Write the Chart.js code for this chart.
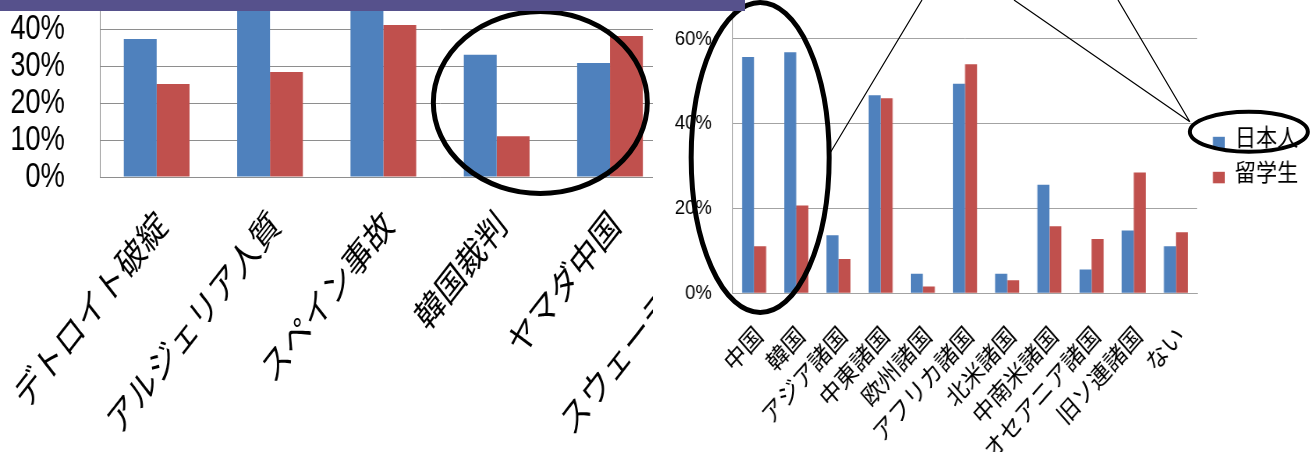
<!DOCTYPE html>
<html lang="ja">
<head>
<meta charset="utf-8">
<title>ニュース認知度と関心地域</title>
<script src="https://cdn.jsdelivr.net/npm/chart.js@4.4.1/dist/chart.umd.min.js"></script>
<style>
  html, body { margin: 0; padding: 0; background: #fff; }
  #stage { position: relative; width: 1314px; height: 452px; overflow: hidden; background: #fff; }
  #leftWrap { position: absolute; left: 0; top: -30px; width: 1010px; height: 482px; transform: scaleX(0.78); transform-origin: 0 0; }
  #rightPanel { position: absolute; left: 653px; top: 0; width: 661px; height: 452px; background: #fff; overflow: hidden; }
  #rightWrap { position: absolute; left: 0; top: -20px; width: 751px; height: 472px; transform: scaleX(0.88); transform-origin: 0 0; }
  canvas { display: block; }
  #marks { position: absolute; left: 0; top: 0; }
  #band { position: absolute; left: 0; top: 0; width: 745px; height: 11px; background: #56518c; }
</style>
</head>
<body>
<div id="stage">
  <div id="leftWrap"><canvas id="leftChart" width="1010" height="482"></canvas></div>
  <div id="rightPanel"><div id="rightWrap"><canvas id="rightChart" width="751" height="472"></canvas></div></div>
  <canvas id="marks" width="1314" height="452"></canvas>
  <div id="band"></div>
</div>
<script>
// ---- data ----
const seriesNames = ['日本人', '留学生'];

const newsTopics = ['デトロイト破綻', 'アルジェリア人質', 'スペイン事故', '韓国裁判', 'ヤマダ中国', 'スウェーデン暴動'];
const newsJapanese = [37.5, 52, 55, 33.2, 31.0, null];
const newsStudents = [25.3, 28.5, 41.3, 11.1, 38.3, null];
const newsTicks = [0, 10, 20, 30, 40, 50];

const regions = ['中国', '韓国', 'アジア諸国', '中東諸国', '欧州諸国', 'アフリカ諸国', '北米諸国', '中南米諸国', 'オセアニア諸国', '旧ソ連諸国', 'ない'];
const regionJapanese = [55.7, 56.8, 13.7, 46.7, 4.6, 49.4, 4.6, 25.6, 5.6, 14.8, 11.1];
const regionStudents = [11.1, 20.7, 8.1, 46.0, 1.6, 54.0, 3.1, 15.8, 12.8, 28.5, 14.4];
const regionTicks = [0, 20, 40, 60];
const regionMax = 70;

// ---- look ----
const BLUE = '#4f81bd';
const RED = '#c0504d';
const GRID_L = '#8e8e8e';
const GRID_R = '#a3a3a3';
const JP = '"Noto Sans CJK JP", "Noto Sans", sans-serif';
const NUM = '"Liberation Sans", Arial, sans-serif';

// horizontal squeeze of each panel and where its canvas sits on the page
const LEFT = { sx: 0.78, x0: 0, y0: -30 };
const RIGHT = { sx: 0.88, x0: 653, y0: -20 };

Chart.defaults.color = '#000';

const pct = v => v + '%';
// keep the plot box exactly where the axis sizes put it
const fixWidth = w => s => { s.width = w; s.paddingTop = 0; s.paddingBottom = 0; };
const fixHeight = h => s => { s.height = h; s.paddingLeft = 0; s.paddingRight = 0; };
const useTicks = list => s => { s.ticks = list.map(v => ({ value: v })); };

let leftChart = null, rightChart = null;

const redrawMarks = { id: 'redrawMarks', afterDraw() { if (leftChart && rightChart) drawMarks(); } };

leftChart = new Chart(document.getElementById('leftChart'), {
  type: 'bar',
  data: {
    labels: newsTopics,
    datasets: [
      { label: seriesNames[0], data: newsJapanese, backgroundColor: BLUE },
      { label: seriesNames[1], data: newsStudents, backgroundColor: RED }
    ]
  },
  plugins: [redrawMarks],
  options: {
    responsive: false,
    animation: false,
    events: [],
    layout: { padding: { top: 23, right: 10, bottom: 0, left: 0 } },
    datasets: { bar: { categoryPercentage: 0.58, barPercentage: 1 } },
    plugins: { legend: { display: false }, tooltip: { enabled: false } },
    scales: {
      x: {
        grid: { display: false, drawTicks: false },
        border: { display: true, color: GRID_L, width: 1 },
        ticks: {
          autoSkip: false, minRotation: 45, maxRotation: 45,
          padding: 25, labelOffset: 6,
          font: { family: JP, size: 37 }
        },
        afterFit: fixHeight(275)
      },
      y: {
        min: newsTicks[0], max: newsTicks[newsTicks.length - 1],
        grid: { color: GRID_L, lineWidth: 1, drawTicks: false },
        border: { display: true, color: GRID_L, width: 1 },
        ticks: { autoSkip: false, callback: pct, padding: 45, font: { family: NUM, size: 35, lineHeight: 1 } },
        afterBuildTicks: useTicks(newsTicks),
        afterFit: fixWidth(128.2)
      }
    }
  }
});

// legend drawn beside the plot of the region chart
const sideLegend = {
  id: 'sideLegend',
  afterDraw(chart) {
    const { ctx, chartArea } = chart;
    const mid = (chartArea.top + chartArea.bottom) / 2;
    const x = chartArea.right + 18;
    ctx.save();
    ctx.font = '24px ' + JP;
    ctx.textBaseline = 'middle';
    ctx.textAlign = 'left';
    chart.data.datasets.forEach((ds, i) => {
      const cy = mid - 8 + i * 35;
      ctx.fillStyle = ds.backgroundColor;
      ctx.fillRect(x, cy, 13.6, 11.5);
      ctx.fillStyle = '#000';
      ctx.fillText(ds.label, x + 25, cy);
    });
    ctx.restore();
    chart.$legendAnchor = { x, y: mid - 8 };
  }
};

rightChart = new Chart(document.getElementById('rightChart'), {
  type: 'bar',
  data: {
    labels: regions,
    datasets: [
      { label: seriesNames[0], data: regionJapanese, backgroundColor: BLUE },
      { label: seriesNames[1], data: regionStudents, backgroundColor: RED }
    ]
  },
  plugins: [sideLegend, redrawMarks],
  options: {
    responsive: false,
    animation: false,
    events: [],
    layout: { padding: { top: 16.3, right: 132.8, bottom: 0, left: 0 } },
    datasets: { bar: { categoryPercentage: 0.57, barPercentage: 1 } },
    plugins: { legend: { display: false }, tooltip: { enabled: false } },
    scales: {
      x: {
        grid: { display: false, drawTicks: false },
        border: { display: true, color: GRID_R, width: 1 },
        ticks: {
          autoSkip: false, minRotation: 45, maxRotation: 45,
          padding: 27, labelOffset: 5,
          font: { family: JP, size: 25 }
        },
        afterFit: fixHeight(158.7)
      },
      y: {
        min: regionTicks[0], max: regionMax,
        grid: { color: GRID_R, lineWidth: 1, drawTicks: false },
        border: { display: true, color: GRID_R, width: 1 },
        ticks: { autoSkip: false, callback: pct, padding: 24, font: { family: NUM, size: 21 } },
        afterBuildTicks: useTicks(regionTicks),
        afterFit: fixWidth(90.9)
      }
    }
  }
});

// ---- hand-drawn emphasis: circles and pointer lines ----
function drawMarks() {
  const cv = document.getElementById('marks');
  const ctx = cv.getContext('2d');
  ctx.clearRect(0, 0, cv.width, cv.height);

  const lx = v => LEFT.x0 + v * LEFT.sx;
  const ly = v => LEFT.y0 + v;
  const rx = v => RIGHT.x0 + v * RIGHT.sx;
  const ry = v => RIGHT.y0 + v;

  const Lx = leftChart.scales.x, Ly = leftChart.scales.y;
  const Rx = rightChart.scales.x, Ry = rightChart.scales.y;

  ctx.strokeStyle = '#000';

  // circle around 韓国裁判 / ヤマダ中国
  const c1x = (lx(Lx.getPixelForValue(3)) + lx(Lx.getPixelForValue(4))) / 2 - 13;
  const c1y = ly(Ly.getPixelForValue(20)) - 1;
  ctx.lineWidth = 5;
  ctx.beginPath();
  ctx.ellipse(c1x, c1y, 107, 91, 0, 0, Math.PI * 2);
  ctx.stroke();

  // circle around 中国 / 韓国
  const c2x = (rx(Rx.getPixelForValue(0)) + rx(Rx.getPixelForValue(1))) / 2 - 15;
  const c2y = ry(Ry.getPixelForValue(32));
  const c2rx = 69, c2ry = 155;
  ctx.beginPath();
  ctx.ellipse(c2x, c2y, c2rx, c2ry, 0, 0, Math.PI * 2);
  ctx.stroke();

  // circle around the 日本人 legend entry
  const a = rightChart.$legendAnchor;
  if (!a) return;
  const c3x = rx(a.x) + 36;
  const c3y = ry(a.y) - 5;
  ctx.lineWidth = 4;
  ctx.beginPath();
  ctx.ellipse(c3x, c3y, 59, 20, 0, 0, Math.PI * 2);
  ctx.stroke();

  // pointer lines coming down from above
  const tip = { x: c3x - 59, y: c3y - 10 };
  ctx.lineWidth = 1.2;
  ctx.beginPath();
  ctx.moveTo(922, 0); ctx.lineTo(c2x + c2rx, c2y - 3);
  ctx.moveTo(1014, 0); ctx.lineTo(tip.x, tip.y);
  ctx.moveTo(1118, 0); ctx.lineTo(tip.x, tip.y);
  ctx.stroke();
}

drawMarks();
</script>
</body>
</html>
